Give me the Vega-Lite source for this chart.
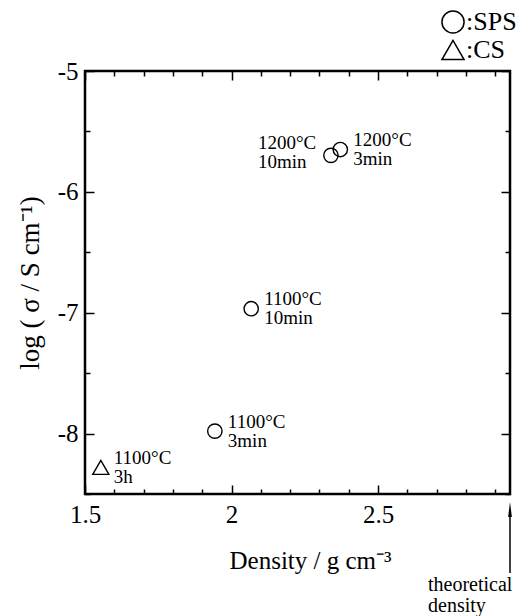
{
  "$schema": "https://vega.github.io/schema/vega-lite/v6.json",
  "autosize": "none",
  "padding": {"left": 85, "top": 71, "right": 11, "bottom": 122},
  "width": 425,
  "height": 423,
  "background": "white",
  "config": {
    "font": "Liberation Serif",
    "view": {"stroke": "black", "strokeWidth": 2.5},
    "axis": {"grid": false, "domain": false, "tickColor": "black", "tickWidth": 1.5, "labelColor": "black", "titleColor": "black", "labelFont": "Liberation Serif", "titleFont": "Liberation Serif", "titleFontWeight": "normal", "labelFlush": false, "labelOverlap": false}
  },
  "data": {
    "values": [
      {"density": 1.554, "logSigma": -8.28, "method": "CS", "temperature": 1100, "duration": "3h", "label": "1100°C\n3h"},
      {"density": 1.943, "logSigma": -7.98, "method": "SPS", "temperature": 1100, "duration": "3min", "label": "1100°C\n3min"},
      {"density": 2.067, "logSigma": -6.967, "method": "SPS", "temperature": 1100, "duration": "10min", "label": "1100°C\n10min"},
      {"density": 2.339, "logSigma": -5.698, "method": "SPS", "temperature": 1200, "duration": "10min", "label": "1200°C\n10min"},
      {"density": 2.371, "logSigma": -5.65, "method": "SPS", "temperature": 1200, "duration": "3min", "label": "1200°C\n3min"}
    ]
  },
  "resolve": {"axis": {"x": "independent", "y": "independent"}},
  "layer": [
    {
      "transform": [{"filter": "datum.method == 'SPS'"}],
      "mark": {"type": "point", "filled": false, "size": 205, "strokeWidth": 1.4, "color": "black", "opacity": 1},
      "encoding": {
        "x": {"field": "density", "type": "quantitative", "scale": {"domain": [1.5, 2.95], "nice": false, "zero": false},
          "axis": {"orient": "bottom", "values": [1.5, 2, 2.5], "ticks": false, "labelExpr": "'' + datum.value", "labelFontSize": 25, "labelPadding": 8, "title": "Density / g cm⁻³", "titleFontSize": 25, "titlePadding": 21, "titleX": 225}},
        "y": {"field": "logSigma", "type": "quantitative", "scale": {"domain": [-8.5, -5], "nice": false, "zero": false},
          "axis": {"orient": "left", "values": [-8, -7, -6, -5], "ticks": false, "labelExpr": "'' + datum.value", "labelFontSize": 25, "labelPadding": 7, "title": "log ( σ / S cm⁻¹)", "titleFontSize": 27, "titlePadding": 13}},
        "shape": {"field": "method", "type": "nominal", "scale": {"domain": ["SPS", "CS"], "range": ["circle", "triangle-up"]},
          "legend": {"orient": "none", "legendX": 355, "legendY": -62, "title": null, "padding": 0, "labelOffset": 0, "rowPadding": 0, "symbolSize": 490, "symbolStrokeWidth": 1.5, "symbolStrokeColor": "black", "symbolFillColor": "transparent", "labelFontSize": 26, "labelFont": "Liberation Serif", "labelColor": "black", "labelExpr": "':' + datum.label"}}
      }
    },
    {
      "transform": [{"filter": "datum.method == 'CS'"}],
      "mark": {"type": "point", "filled": false, "size": 260, "strokeWidth": 1.4, "color": "black", "opacity": 1},
      "encoding": {
        "x": {"field": "density", "type": "quantitative", "axis": {"orient": "bottom", "values": [1.5, 2, 2.5], "tickSize": -9, "labels": false, "title": null}},
        "y": {"field": "logSigma", "type": "quantitative", "axis": {"orient": "left", "values": [-8, -7, -6, -5], "tickSize": -9, "labels": false, "title": null}},
        "shape": {"field": "method", "type": "nominal"}
      }
    },
    {
      "transform": [{"filter": "!(datum.temperature == 1200 && datum.duration == '10min')"}],
      "mark": {"type": "text", "align": "left", "baseline": "alphabetic", "dx": 13, "dy": -3.5, "fontSize": 19, "lineHeight": 19, "lineBreak": "\n", "color": "black"},
      "encoding": {
        "x": {"field": "density", "type": "quantitative", "axis": {"orient": "bottom", "values": [1.6, 1.7, 1.8, 1.9, 2.1, 2.2, 2.3, 2.4, 2.6, 2.7, 2.8, 2.9], "tickSize": -5, "labels": false, "title": null}},
        "y": {"field": "logSigma", "type": "quantitative", "axis": {"orient": "left", "values": [-8.5, -7.5, -6.5, -5.5], "tickSize": -5, "labels": false, "title": null}},
        "text": {"field": "label"}
      }
    },
    {
      "transform": [{"filter": "datum.temperature == 1200 && datum.duration == '10min'"}],
      "mark": {"type": "text", "align": "left", "baseline": "alphabetic", "dx": -73, "dy": -6, "fontSize": 19, "lineHeight": 19, "lineBreak": "\n", "color": "black"},
      "encoding": {
        "x": {"field": "density", "type": "quantitative", "axis": {"orient": "top", "values": [1.5, 2, 2.5], "tickSize": -9, "labels": false, "title": null}},
        "y": {"field": "logSigma", "type": "quantitative", "axis": {"orient": "right", "values": [-8, -7, -6, -5], "tickSize": -9, "labels": false, "title": null}},
        "text": {"field": "label"}
      }
    },
    {
      "data": {"values": [{}]},
      "mark": {"type": "rule", "color": "black", "strokeWidth": 1.5},
      "encoding": {
        "x": {"datum": 2.95, "type": "quantitative", "axis": {"orient": "top", "values": [1.6, 1.7, 1.8, 1.9, 2.1, 2.2, 2.3, 2.4, 2.6, 2.7, 2.8, 2.9], "tickSize": -5, "labels": false, "title": null}},
        "y": {"datum": -8.63, "type": "quantitative", "axis": {"orient": "right", "values": [-8.5, -7.5, -6.5, -5.5], "tickSize": -5, "labels": false, "title": null}},
        "y2": {"datum": -9.154}
      }
    },
    {
      "data": {"values": [{}]},
      "mark": {"type": "point", "shape": "M0,-1L0.25,1L-0.25,1Z", "filled": true, "size": 225, "color": "black", "opacity": 1},
      "encoding": {
        "x": {"datum": 2.95, "type": "quantitative", "axis": null},
        "y": {"datum": -8.628, "type": "quantitative", "axis": null}
      }
    },
    {
      "data": {"values": [{}]},
      "mark": {"type": "text", "text": ["theoretical", "density"], "align": "left", "baseline": "alphabetic", "dx": -82, "fontSize": 20, "lineHeight": 21, "color": "black"},
      "encoding": {
        "x": {"datum": 2.95, "type": "quantitative", "axis": null},
        "y": {"datum": -9.3, "type": "quantitative", "axis": null}
      }
    }
  ]
}
